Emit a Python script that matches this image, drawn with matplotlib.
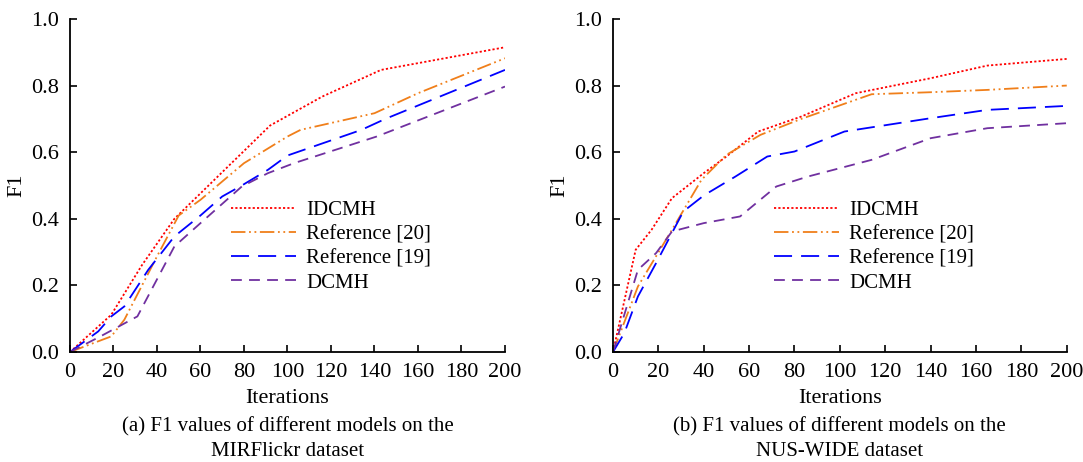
import matplotlib
matplotlib.use("Agg")
import matplotlib.pyplot as plt

plt.rcParams["font.family"] = ["Liberation Serif", "DejaVu Serif"]

# (a) MIRFlickr
a_idcmh_x = [0, 19, 33, 48, 92, 116, 143, 200]
a_idcmh_y = [0.0, 0.112, 0.26, 0.40, 0.68, 0.767, 0.847, 0.915]
a_ref20_x = [0, 8, 19, 25, 40, 50, 60, 80, 100, 106, 140, 160, 200]
a_ref20_y = [0.0, 0.02, 0.047, 0.097, 0.287, 0.41, 0.457, 0.567, 0.647, 0.667, 0.717, 0.777, 0.882]
a_ref19_x = [0, 13, 19, 25, 36, 48, 60, 70, 79, 91, 100, 134, 145, 200]
a_ref19_y = [0.0, 0.062, 0.107, 0.137, 0.247, 0.347, 0.41, 0.467, 0.50, 0.547, 0.59, 0.667, 0.70, 0.847]
a_dcmh_x = [0, 14, 31, 48, 60, 79, 91, 103, 141, 200]
a_dcmh_y = [0.0, 0.047, 0.107, 0.317, 0.387, 0.497, 0.537, 0.567, 0.647, 0.797]

# (b) NUS-WIDE
b_idcmh_x = [0, 10, 17, 26, 40, 50, 64, 83, 107, 140, 165, 200]
b_idcmh_y = [0.0, 0.307, 0.367, 0.462, 0.537, 0.587, 0.662, 0.707, 0.777, 0.822, 0.86, 0.88]
b_ref20_x = [0, 11, 26, 39, 50, 65, 83, 114, 140, 165, 200]
b_ref20_y = [0.0, 0.197, 0.367, 0.517, 0.592, 0.652, 0.70, 0.774, 0.78, 0.787, 0.80]
b_ref19_x = [0, 5, 11, 19, 31, 40, 54, 68, 80, 102, 140, 165, 200]
b_ref19_y = [0.0, 0.057, 0.167, 0.267, 0.422, 0.47, 0.527, 0.587, 0.602, 0.662, 0.702, 0.727, 0.739]
b_dcmh_x = [0, 11, 19, 26, 40, 56, 72, 86, 114, 140, 165, 200]
b_dcmh_y = [0.0, 0.247, 0.297, 0.362, 0.387, 0.407, 0.497, 0.527, 0.577, 0.642, 0.672, 0.687]

labels = ["IDCMH", "Reference [20]", "Reference [19]", "DCMH"]
captions = [("(a) F1 values of different models on the", "MIRFlickr dataset"),
            ("(b) F1 values of different models on the", "NUS-WIDE dataset")]

styles = [
    dict(color="#ff0000", dashes=(1.2, 1.2)),
    dict(color="#f07f1a", dashes=(8, 2, 1, 2, 1, 2)),
    dict(color="#0000ff", dashes=(10, 5)),
    dict(color="#7030a0", dashes=(6, 4)),
]

fig = plt.figure(figsize=(10.83, 4.62), dpi=100)
ax1 = fig.add_axes([0.0646, 0.238, 0.4017, 0.721])
ax2 = fig.add_axes([0.566, 0.238, 0.419, 0.721])

panels = [
    (ax1, [(a_idcmh_x, a_idcmh_y), (a_ref20_x, a_ref20_y), (a_ref19_x, a_ref19_y), (a_dcmh_x, a_dcmh_y)], 0.37),
    (ax2, [(b_idcmh_x, b_idcmh_y), (b_ref20_x, b_ref20_y), (b_ref19_x, b_ref19_y), (b_dcmh_x, b_dcmh_y)], 0.355),
]

for i, (ax, series, lx) in enumerate(panels):
    for (xs, ys), lab, st in zip(series, labels, styles):
        ax.plot(xs, ys, lw=1.3, label=lab, **st)
    ax.set_xlim(0, 200)
    ax.set_ylim(0, 1.0)
    ax.set_xticks(range(0, 201, 20))
    ax.set_yticks([0.0, 0.2, 0.4, 0.6, 0.8, 1.0])
    ax.set_yticklabels(["0.0", "0.2", "0.4", "0.6", "0.8", "1.0"])
    ax.spines["top"].set_visible(False)
    ax.spines["right"].set_visible(False)
    for s in ("left", "bottom"):
        ax.spines[s].set_linewidth(1.3)
    ax.tick_params(direction="in", length=5, width=1.2, labelsize=16, pad=8)
    ax.set_xlabel("Iterations", fontsize=16, labelpad=5)
    ax.set_ylabel("F1", fontsize=16, labelpad=3)
    ax.legend(loc="upper left", bbox_to_anchor=(lx, 0.455), frameon=False, fontsize=15,
              handlelength=3.1, handletextpad=0.5, labelspacing=0.22, borderpad=0, borderaxespad=0)
    ax.text(0.5, -0.225, captions[i][0], transform=ax.transAxes, ha="center", va="center", fontsize=15)
    ax.text(0.5, -0.300, captions[i][1], transform=ax.transAxes, ha="center", va="center", fontsize=15)

fig.savefig("out.png", dpi=100)
